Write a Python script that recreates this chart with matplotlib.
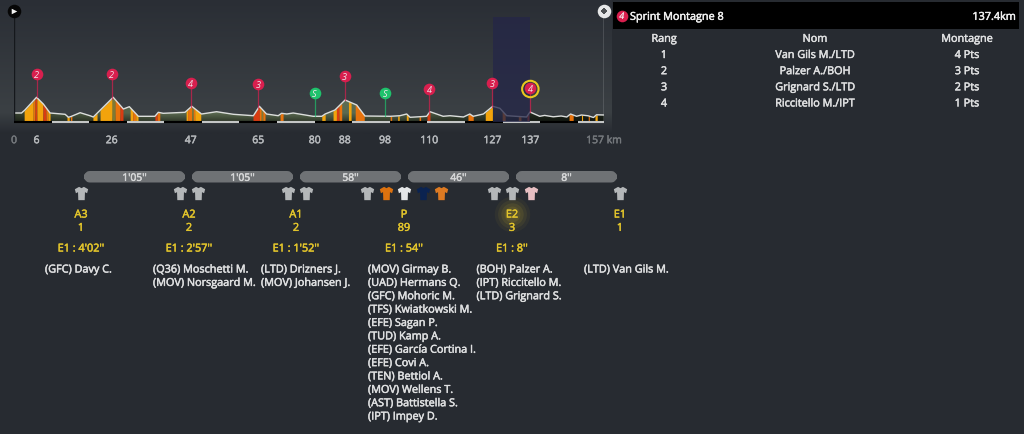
import numpy as np
import matplotlib
matplotlib.use("Agg")
import matplotlib.pyplot as plt
import matplotlib.patheffects as pe
from matplotlib.patches import FancyBboxPatch, Rectangle
from matplotlib.path import Path
from matplotlib.colors import to_rgb

plt.rcParams['font.family'] = ['Open Sans', 'DejaVu Sans']

# ---------- data ----------
profile_km = [0, 2.0, 2.9, 6.0, 7.8, 9.6, 13.6, 14.5, 15.3, 17.6, 20.2, 21.1, 26.4, 29.1, 30.7, 33.1, 37.5, 38.4, 39.7,
              45.5, 47.3, 49.9, 53.9, 58.4, 63.7, 65.3, 67.2, 70.3, 71.2, 72.6, 74.3, 79.6, 80.1, 81.9, 82.8, 85.4, 88.1,
              91.2, 93.4, 100.1, 102.7, 104.5, 105.4, 109.8, 110.7, 114.2, 116, 119.6, 121.3, 122.2, 124.9, 127.4, 129.3,
              131.1, 136.4, 137.3, 139.9, 141.2, 143.5, 145.6, 147.1, 148.1, 149.7, 151.0, 152.8, 154.2, 155.0, 157]
profile_alt = [90, 90, 120, 247, 180, 90, 77, 47, 57, 93, 63, 50, 247, 130, 153, 57, 57, 97, 87,
               97, 157, 80, 103, 77, 63, 157, 80, 63, 87, 80, 90, 57, 57, 57, 80, 120, 220,
               170, 60, 57, 63, 80, 47, 57, 103, 57, 63, 50, 80, 57, 80, 157, 137,
               63, 50, 100, 57, 66, 52, 60, 50, 80, 57, 70, 62, 45, 72, 70]

Y, O, R, G = '#f2a30c', '#e8730c', '#d83c12', '#7d7a35'
seg_start = [2.7, 5.1, 5.6, 6.1, 7.7, 8.5, 9.0, 14.1, 15.0, 21.0, 22.9, 26.1, 26.9, 28.2, 30.9, 31.6, 32.4, 37.5, 38.1,
             45.8, 46.2, 47.3, 47.7, 48.1, 63.6, 65.3, 65.8, 66.2, 70.8, 81.9, 84.9, 85.8, 86.5, 89.0, 90.8,
             100.1, 102.1, 104.4, 107.8, 109.9, 120.8, 125.4, 129.9, 134.2, 136.5, 147.7, 151.0, 152.8, 154.6]
seg_end = [5.1, 5.6, 6.1, 7.7, 8.5, 9.0, 9.6, 14.7, 15.4, 22.1, 26.1, 26.9, 28.2, 29.0, 31.6, 32.4, 33.0, 38.1, 38.8,
           46.2, 47.3, 47.7, 48.1, 49.7, 65.3, 65.8, 66.2, 66.8, 71.6, 82.8, 85.8, 86.5, 87.2, 89.7, 93.2,
           100.5, 102.5, 104.9, 108.2, 110.7, 122.2, 127.3, 130.7, 134.9, 137.0, 148.8, 151.3, 153.1, 155.2]
seg_color = [Y, O, R, Y, R, O, Y, Y, O, Y, Y, G, O, R, Y, O, Y, R, O,
             Y, O, G, O, Y, R, O, G, O, O, Y, Y, R, O, Y, O,
             O, Y, Y, O, R, O, Y, O, O, R, O, Y, O, Y]

tick_pos = [0, 6, 26, 47, 65, 80, 88, 98.7, 110.5, 127.3, 137.4, 157]
tick_txt = ['0', '6', '26', '47', '65', '80', '88', '98', '110', '127', '137', '157 km']

climb_km = [6, 26, 47, 65, 80, 88, 98.7, 110.5, 127.3, 137.4]
climb_badge_alt = [480, 480, 390, 380, 290, 460, 290, 330, 390, 340]
climb_label = ['2', '2', '4', '3', 'S', '3', 'S', '4', '3', '4']

group_labels = ['A3', 'A2', 'A1', 'P', 'E2', 'E1']
group_counts = ['1', '2', '2', '89', '3', '1']
group_times = ["E1 : 4'02''", "E1 : 2'57''", "E1 : 1'52''", "E1 : 54''", "E1 : 8''", '']
gap_labels = ["1'05''", "1'05''", "58''", "46''", "8''"]
group_names = [
    ['(GFC) Davy C.'],
    ['(Q36) Moschetti M.', '(MOV) Norsgaard M.'],
    ['(LTD) Drizners J.', '(MOV) Johansen J.'],
    ['(MOV) Girmay B.', '(UAD) Hermans Q.', '(GFC) Mohoric M.', '(TFS) Kwiatkowski M.', '(EFE) Sagan P.', '(TUD) Kamp A.',
     '(EFE) García Cortina I.', '(EFE) Covi A.', '(TEN) Bettiol A.', '(MOV) Wellens T.', '(AST) Battistella S.', '(IPT) Impey D.'],
    ['(BOH) Palzer A.', '(IPT) Riccitello M.', '(LTD) Grignard S.'],
    ['(LTD) Van Gils M.'],
]
jersey_colors = ['#b4b7b9', '#b4b7b9', '#b4b7b9', '#b4b7b9', '#b4b7b9', '#b4b7b9', '#dd720f', '#e4e6e8', '#0b2350',
                 '#dd7a22', '#b4b7b9', '#b4b7b9', '#e8bfc3', '#b4b7b9']

table_head = ['Rang', 'Nom', 'Montagne']
table_rank = ['1', '2', '3', '4']
table_name = ['Van Gils M./LTD', 'Palzer A./BOH', 'Grignard S./LTD', 'Riccitello M./IPT']
table_pts = ['4 Pts', '3 Pts', '2 Pts', '1 Pts']

# ---------- layout (pixels) ----------
W, H = 1024, 435
fig = plt.figure(figsize=(W / 100, H / 100), dpi=100, facecolor='#272b31')
lay = fig.add_axes([0, 0, 1, 1])
lay.set_xlim(0, W)
lay.set_ylim(H, 0)
lay.axis('off')


def label(x, y, t, color='#dfe0e1', size=7.82, ha='center', z=3, stroke=0.35):
    """Semi-bold looking text placed by its visual middle."""
    txt = lay.text(x, y + 3.8, t, color=color, fontsize=size, ha=ha, va='baseline', zorder=z)
    txt.set_path_effects([pe.withStroke(linewidth=stroke, foreground=color)])
    return txt


# panel gradient behind the profile
c_top, c_mid, c_bot = np.array(to_rgb('#2a2e35')), np.array(to_rgb('#3b4044')), np.array(to_rgb('#272b31'))
rows = np.arange(135)
grad = np.zeros((135, 1, 3))
for i in range(3):
    grad[:, 0, i] = np.interp(rows, [0, 112, 134], [c_top[i], c_mid[i], c_bot[i]])
lay.imshow(grad, extent=(0, 612, 135, 0), aspect='auto', zorder=0)
lay.set_xlim(0, W)
lay.set_ylim(H, 0)

# ---------- profile ----------
left, right, base, top = 14, 604, 123, 12
ax = fig.add_axes([left / W, (H - base) / H, (right - left) / W, (base - top) / H])
ax.patch.set_alpha(0)
ax.set_xlim(0, 157)
ax.set_ylim(0, 1110)
for s in ax.spines.values():
    s.set_visible(False)
ax.set_yticks([])
ax.set_xticks(tick_pos)
ax.set_xticklabels(tick_txt, fontsize=7.5)
ax.tick_params(axis='x', length=0, pad=9.5)
for lab, txt in zip(ax.get_xticklabels(), tick_txt):
    col = '#74787c' if txt in ('0', '157 km') else '#b6b9bc'
    lab.set_color(col)
    lab.set_path_effects([pe.withStroke(linewidth=0.35, foreground=col)])

# terrain fill with gradient clipped to the profile
poly = ax.fill_between(profile_km, 0, profile_alt, color='none', lw=0)
stops_km = [0, 10, 40, 100, 125, 138, 157]
stops_col = ['#36412f', '#48553f', '#5a6a50', '#5a6a50', '#3a4736', '#232c20', '#1e261c']
stops_rgb = np.array([to_rgb(c) for c in stops_col])
xs = np.linspace(0, 157, 400)
alts = np.linspace(260, 0, 130)
shade = np.interp(alts, [0, 90, 260], [0.5, 1.0, 1.05])
terr = np.stack([np.interp(xs, stops_km, stops_rgb[:, i]) for i in range(3)], axis=-1)[None, :, :]
terr = np.clip(terr * shade[:, None, None], 0, 1)
im = ax.imshow(terr, extent=(0, 157, 0, 260), aspect='auto', zorder=1)
im.set_clip_path(poly.get_paths()[0], transform=ax.transData)
ax.set_xlim(0, 157)
ax.set_ylim(0, 1110)

# coloured gradient sections
pk, pa = np.array(profile_km), np.array(profile_alt)
for a, b, c in zip(seg_start, seg_end, seg_color):
    inner = pk[(pk > a) & (pk < b)]
    x = np.r_[a, inner, b]
    ax.fill_between(x, 0, np.interp(x, pk, pa), color=c, lw=0, zorder=2)

ax.plot(profile_km, profile_alt, color='#dcdedc', lw=1.0, zorder=3, solid_joinstyle='round')

# km strip along the bottom
strip = list(range(0, 150, 10)) + [150]
strip_end = strip[1:] + [157]
for i, (a, b) in enumerate(zip(strip, strip_end)):
    ax.plot([a, b], [0, 0], color='#000000' if i % 2 == 0 else '#c4c6c6', lw=1.5, zorder=4,
            solid_capstyle='butt', clip_on=False)

# start and end poles
ax.plot([0, 0], [0, 1110], color='#15181c', lw=1.0, zorder=3)
ax.plot([157, 157], [0, 1110], color='#b9bcbe', lw=1.0, zorder=3)

# highlighted section
ax.axvspan(127.4, 137.4, ymin=0, ymax=0.945, color='#242648', alpha=0.75, lw=0, zorder=5)

# climb badges
alt_at = np.interp(climb_km, pk, pa)
for km, by, t, ground in zip(climb_km, climb_badge_alt, climb_label, alt_at):
    col = '#1fc26c' if t == 'S' else '#d81f4e'
    ax.plot([km, km], [ground, by], color=col, lw=0.9, alpha=0.7, zorder=6)
    ax.scatter([km], [by], s=70, color=col, lw=0, zorder=7, clip_on=False)
    ax.text(km, by - 30, t, color='#f0e6ea', fontsize=6.6, fontstyle='italic',
            ha='center', va='baseline', zorder=8)
ax.scatter([137.4], [330], s=140, facecolor='none', edgecolor='#e8c81e', lw=1.5, zorder=8)

# start / finish icons
ax.scatter([0], [1110], s=95, color='#060606', lw=0, zorder=9, clip_on=False)
ax.scatter([0.1], [1110], s=16, marker='>', color='#f2f2f2', lw=0, zorder=10, clip_on=False)
ax.scatter([157], [1110], s=95, color='#e6e7e8', lw=0, zorder=9, clip_on=False)
for dx, dy in [(0, 0), (-0.55, 0), (0.55, 0), (0, 22), (0, -22), (-0.3, 12), (0.3, 12), (-0.3, -12), (0.3, -12)]:
    ax.scatter([157 + dx], [1110 + dy], s=2.2, marker='s', color='#4d5053', lw=0, zorder=10, clip_on=False)

# ---------- right table ----------
lay.add_patch(Rectangle((613.3, 3.3), 405.7, 26.7, color='#000000', lw=0, zorder=1))
lay.scatter([621.7], [16.7], s=70, color='#d81f4e', lw=0, zorder=2)
label(621.7, 16.2, '4', color='#f0e6ea', size=6.6, stroke=0).set_fontstyle('italic')
label(630, 17, 'Sprint Montagne 8', color='#f0f0f0', ha='left')
label(1016, 17, '137.4km', color='#f0f0f0', ha='right')
col_x = [664, 815, 967]
for x, t in zip(col_x, table_head):
    label(x, 39, t)
for i, (a, b, c) in enumerate(zip(table_rank, table_name, table_pts)):
    y = 55.2 + 16.15 * i
    for x, t in zip(col_x, (a, b, c)):
        label(x, y, t)

# ---------- gap bars ----------
gap_x = [84, 192, 300, 408, 516]
for x, t in zip(gap_x, gap_labels):
    lay.add_patch(FancyBboxPatch((x + 3, 175), 95, 5.5, boxstyle='round,pad=0,rounding_size=3', mutation_aspect=1,
                                 lw=6 * 0.72, ec='#6f7275', fc='#6f7275', joinstyle='round', zorder=1))
    label(x + 50.5, 178, t, color='#d6d7d8', size=7.4)

# ---------- jerseys ----------
shirt = Path([(-0.18, 0.5), (-0.5, 0.32), (-0.42, 0.02), (-0.26, 0.1), (-0.24, -0.5), (0.24, -0.5), (0.26, 0.1),
              (0.42, 0.02), (0.5, 0.32), (0.18, 0.5), (0, 0.4), (-0.18, 0.5)], closed=True)
jersey_x = [81, 180, 198, 288, 306, 367, 386, 404, 423, 441, 494, 512, 531, 620]
for x, c in zip(jersey_x, jersey_colors):
    lay.scatter([x], [194], s=92, marker=shirt, color=c, lw=0, zorder=2)

# ---------- groups ----------
YEL = '#e3c52b'
group_x = [81, 189, 296, 404, 512, 620]
name_x = [45, 153, 261, 368, 476.5, 584]
for s, a in zip([650, 430, 260, 130], [0.05, 0.07, 0.09, 0.10]):
    lay.scatter([512], [214.5], s=s, color='#e3c52b', alpha=a, lw=0, zorder=1)
for x, nx, lab, cnt, tm, names in zip(group_x, name_x, group_labels, group_counts, group_times, group_names):
    label(x, 214.7, lab, color=YEL)
    label(x, 228, cnt, color=YEL)
    if tm:
        label(x, 248.7, tm, color=YEL)
    for j, n in enumerate(names):
        label(nx, 269.7 + 13.37 * j, n, ha='left')

fig.savefig('out.png', dpi=100, facecolor=fig.get_facecolor())
